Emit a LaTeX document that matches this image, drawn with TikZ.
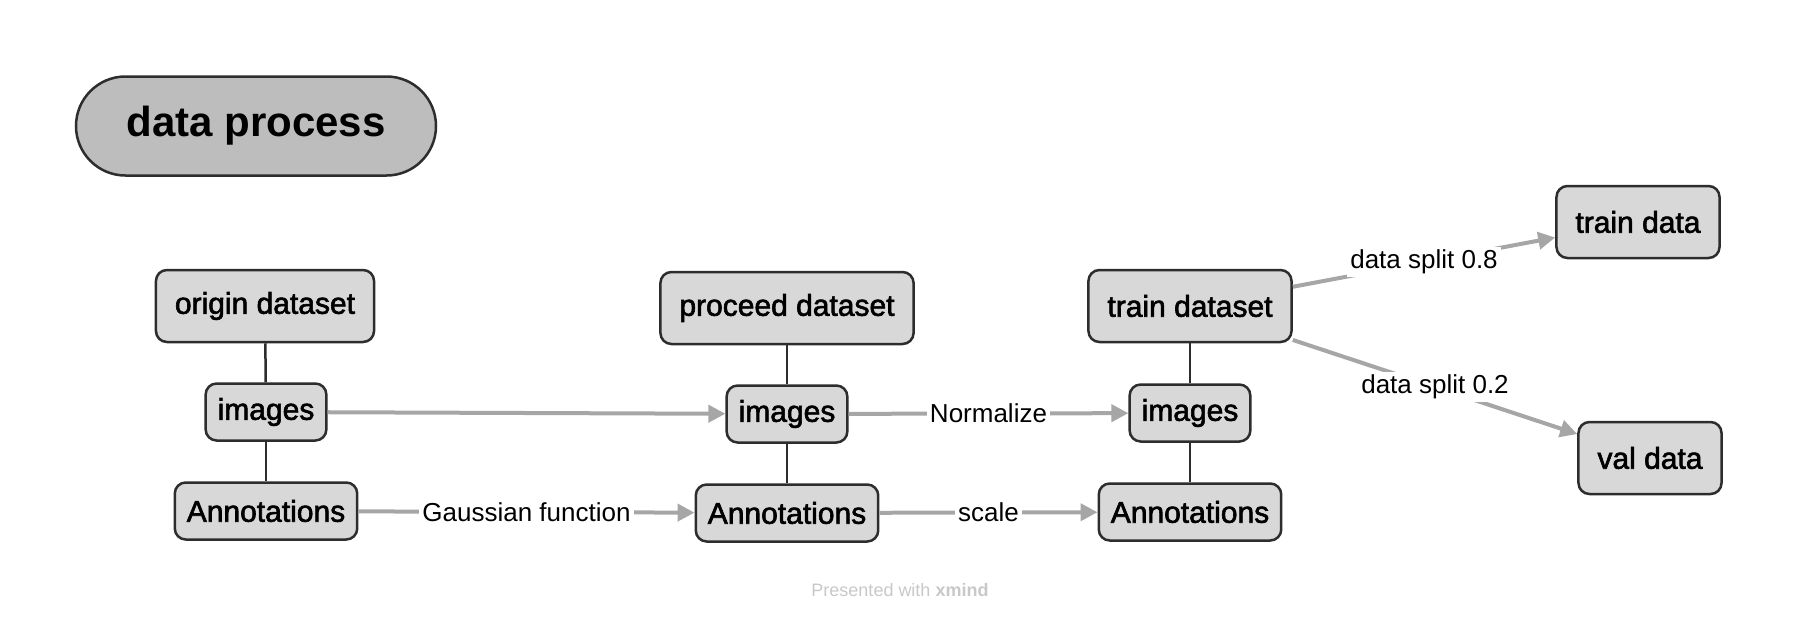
\documentclass[tikz,border=0pt]{standalone}
\usepackage{fontspec}
\setmainfont{Liberation Sans}
\newfontfamily\medfont{Liberation Sans}[FakeBold=2]
\usetikzlibrary{arrows.meta}
\definecolor{boxfill}{RGB}{216,216,216}
\definecolor{boxline}{RGB}{45,45,45}
\definecolor{titlefill}{RGB}{189,189,189}
\definecolor{flowgray}{RGB}{166,166,166}
\definecolor{markgray}{RGB}{200,200,200}
\begin{document}
\begin{tikzpicture}[x=1pt,y=-1pt,
    topic/.style={draw=boxline, line width=2.5pt, fill=boxfill, rounded corners=11pt,
        font=\medfont\fontsize{30}{36}\selectfont, inner xsep=19pt, minimum height=72pt},
    subtopic/.style={topic, inner xsep=12pt, minimum height=57pt},
    link/.style={draw=boxline, line width=2.5pt},
    flow/.style={draw=flowgray, line width=4pt, -{Triangle[length=17pt,width=17pt]}},
    flowlabel/.style={fill=white, inner sep=3pt, font=\fontsize{26}{30}\selectfont}]
                \useasboundingbox (0,0) rectangle (1797,619);

                \node[draw=boxline, line width=2.5pt, fill=titlefill, rounded corners=49.5pt,
                    minimum width=360pt, minimum height=99pt,
                    font=\bfseries\fontsize{42}{50}\selectfont] (title) at (256,126) {data process};

                \node[topic] (origin) at (265,306) {origin dataset};
                \node[subtopic] (oimg) at (266,412) {images};
                \node[subtopic] (oann) at (266,511) {Annotations};

                \node[topic] (proceed) at (787,308) {proceed dataset};
                \node[subtopic] (pimg) at (787,414) {images};
                \node[subtopic] (pann) at (787,513) {Annotations};

                \node[topic] (trainset) at (1190,306) {train dataset};
                \node[subtopic] (timg) at (1190,413) {images};
                \node[subtopic] (tann) at (1190,512) {Annotations};

                \node[topic] (traindata) at (1638,222) {train data};
                \node[topic] (valdata) at (1650,458) {val data};

                \draw[link] (origin) -- (oimg);
                \draw[link] (oimg) -- (oann);
                \draw[link] (proceed) -- (pimg);
                \draw[link] (pimg) -- (pann);
                \draw[link] (trainset) -- (timg);
                \draw[link] (timg) -- (tann);

                \draw[flow] (oimg) -- (pimg);
                \draw[flow] (oann) -- node[flowlabel] {Gaussian function} (pann);
                \draw[flow] (pimg) -- node[flowlabel] {Normalize} (timg);
                \draw[flow] (pann) -- node[flowlabel] {scale} (tann);
                \draw[flow] (trainset) -- node[flowlabel] {data split 0.8} (traindata);
                \draw[flow] (trainset) -- node[flowlabel] {data split 0.2} (valdata);

                \node[text=markgray, font=\fontsize{18}{22}\selectfont] (credit) at (900,590)
                    {Presented with \textbf{xmind}};
            \end{tikzpicture}
\end{document}
